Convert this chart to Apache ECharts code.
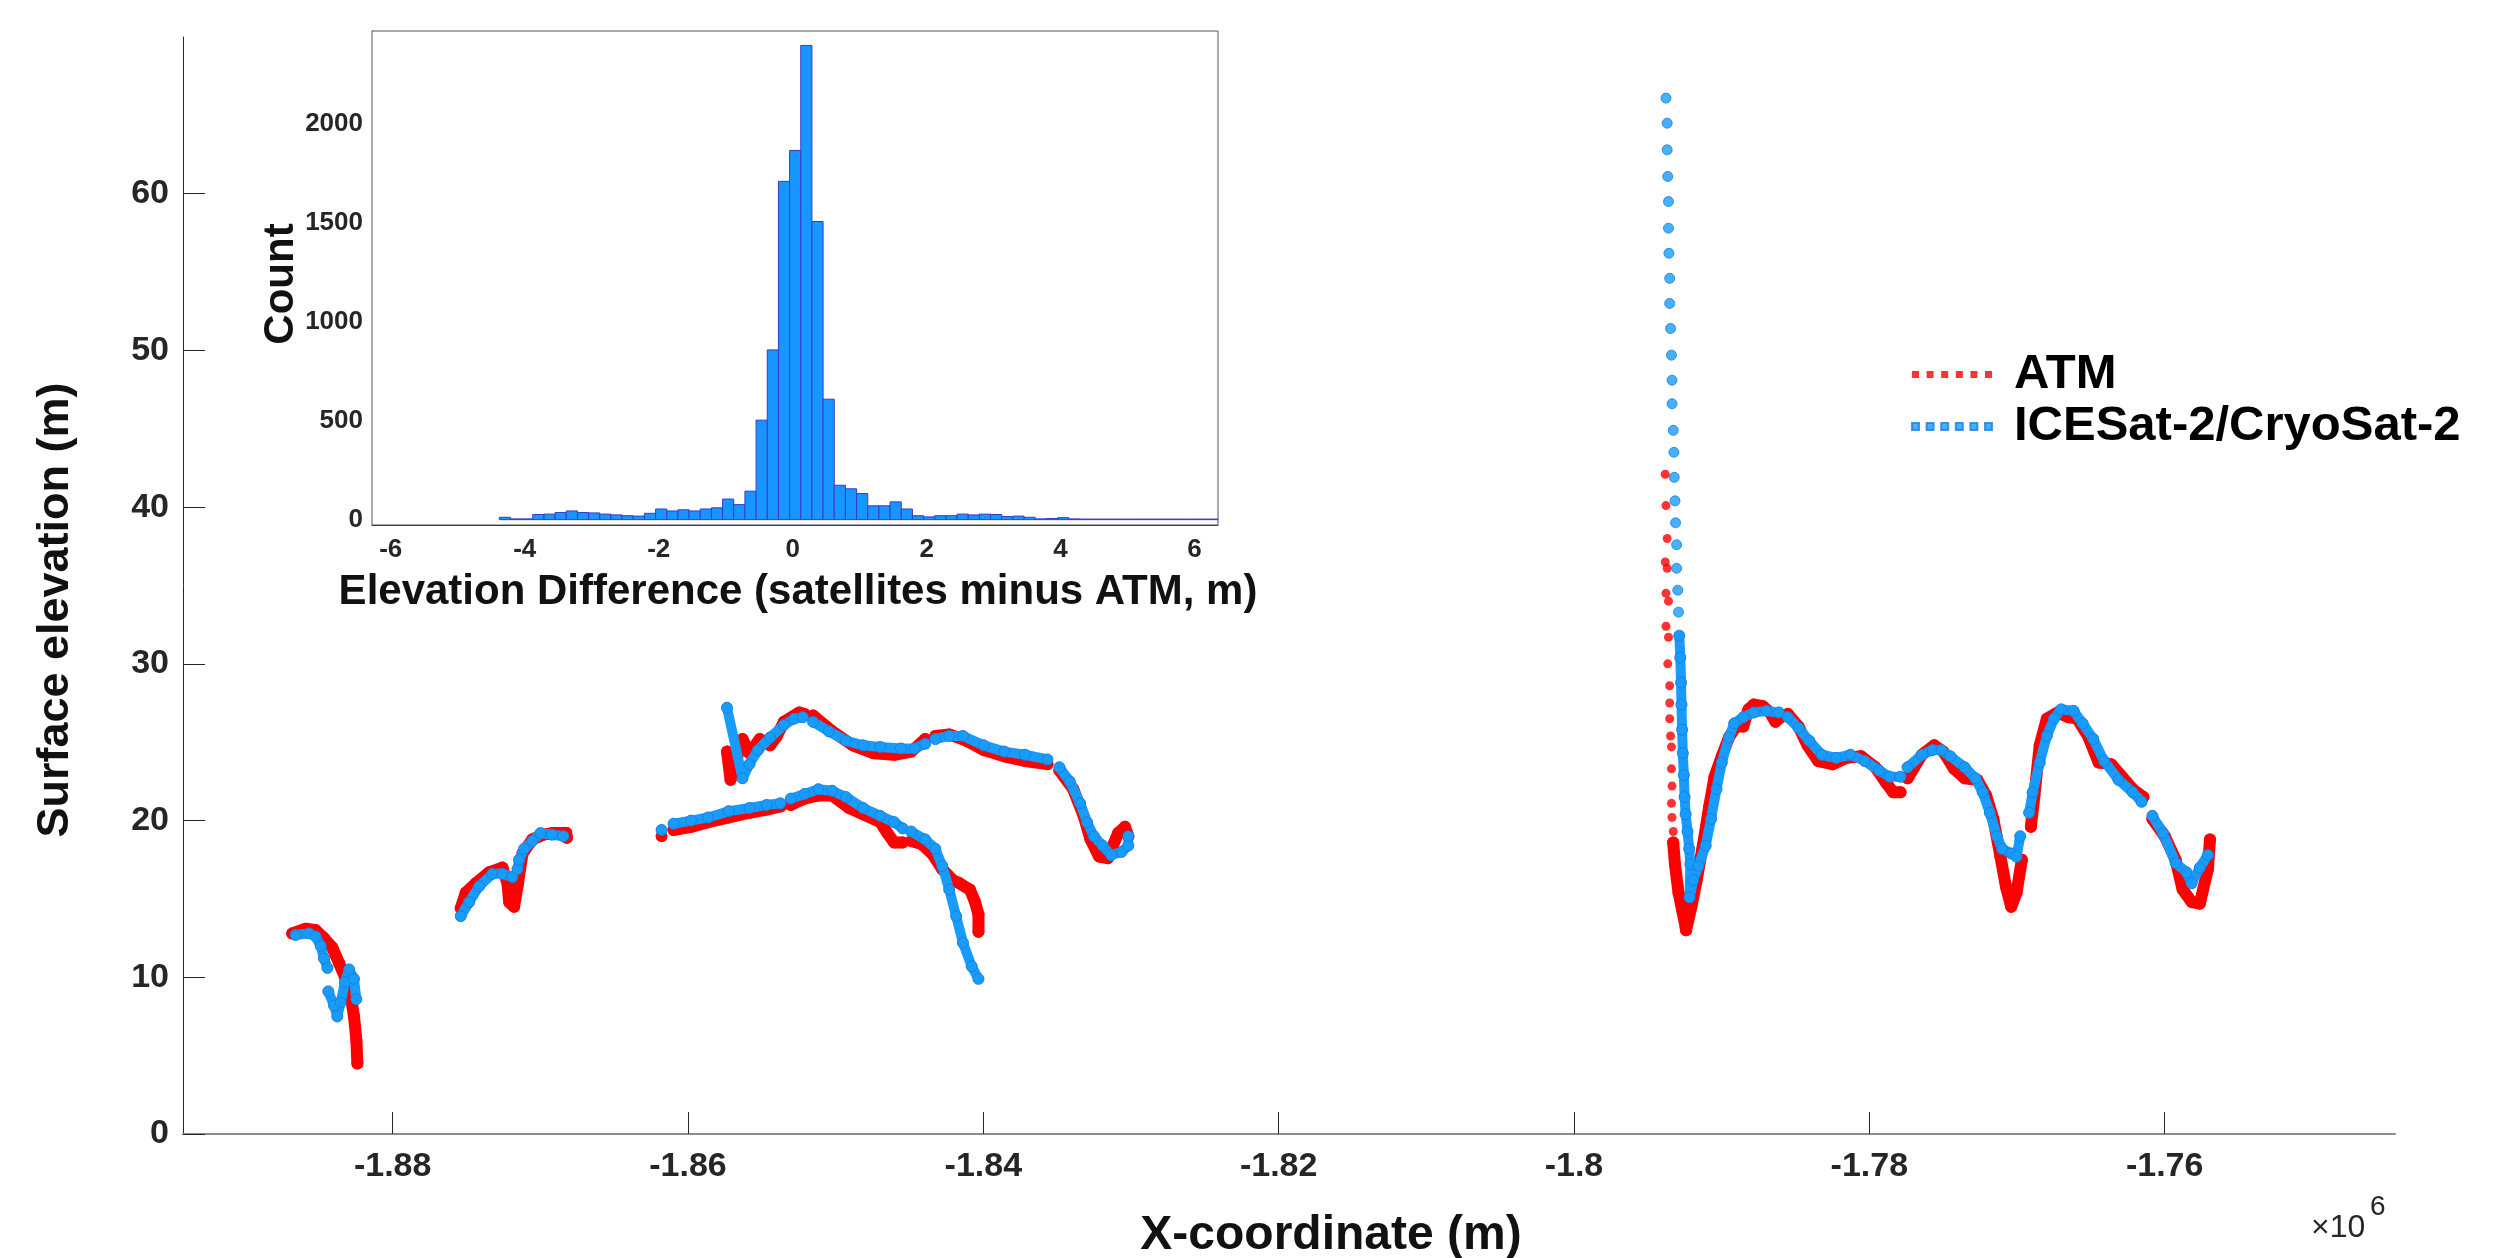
<!DOCTYPE html>
<html>
<head>
<meta charset="utf-8">
<title>Surface elevation: ATM vs ICESat-2/CryoSat-2</title>
<script src="https://cdn.jsdelivr.net/npm/echarts@6/dist/echarts.min.js"></script>
<style>
  html, body { margin: 0; padding: 0; background: #fff; }
  #chart { width: 2508px; height: 1258px; }
</style>
</head>
<body>
<div id="chart"></div>
<script>
// [x-coordinate (m), surface elevation (m)], null = gap in the track
const atmTrack = [
  [-1886800,12.8],[-1885890,13.1],[-1885210,13.0],[-1884650,12.5],[-1884090,11.9],[-1883630,10.9],[-1883180,9.9],[-1882840,8.8],[-1882620,7.5],[-1882460,6.0],[-1882390,4.5],
  null,
  [-1875390,14.4],[-1875050,15.4],[-1874370,16.0],[-1873470,16.7],[-1872570,17.0],[-1872230,16.0],[-1872110,14.8],[-1871780,14.5],[-1871550,15.8],[-1871210,17.9],[-1870540,18.8],[-1869800,19.1],[-1869210,19.2],[-1868250,19.2],[-1868200,18.9],
  null,
  [-1861790,19.0],
  null,
  [-1860980,19.4],[-1859800,19.6],[-1858640,19.9],[-1857240,20.2],[-1855840,20.5],[-1854670,20.7],[-1853740,20.9],
  null,
  [-1853040,21.0],[-1852110,21.4],[-1851170,21.6],[-1850240,21.6],[-1849080,20.8],[-1848140,20.4],[-1846980,19.9],[-1846500,19.2],[-1846040,18.6],[-1845460,18.6],
  null,
  [-1844880,18.7],[-1844170,18.5],[-1843480,17.9],[-1842780,16.9],[-1842070,16.2],[-1841610,16.0],[-1840910,15.6],[-1840560,14.8],[-1840330,14.0],[-1840330,12.9],
  null,
  [-1857360,24.4],[-1857120,22.6],[-1856310,25.2],[-1855840,24.3],[-1855140,25.2],[-1854440,24.8],[-1853980,25.4],[-1853510,26.3],[-1852460,26.9],[-1852110,26.8],
  null,
  [-1851530,26.7],[-1850240,25.7],[-1848840,24.8],[-1847440,24.3],[-1846040,24.2],[-1844880,24.4],[-1843940,25.2],
  null,
  [-1843250,25.4],[-1842310,25.5],[-1841150,25.1],[-1839970,24.5],[-1838580,24.1],[-1837180,23.8],[-1835660,23.6],
  null,
  [-1834850,23.2],[-1833910,22.0],[-1833210,20.3],[-1832740,18.8],[-1832160,17.7],[-1831580,17.6],[-1830870,19.2],[-1830410,19.6],[-1830180,19.0],
  null,
  [-1793280,18.6],[-1793160,17.2],[-1792920,15.4],[-1792680,14.3],[-1792440,13.2],[-1792410,13.0],[-1792050,14.5],[-1791690,16.2],[-1791200,18.8],[-1790840,20.9],[-1790480,22.8],[-1789990,24.1],[-1789510,25.3],[-1789030,26.0],[-1788540,26.0],[-1788180,27.1],[-1787810,27.4],[-1787210,27.3],[-1786720,26.9],[-1786360,26.3],[-1786000,26.6],
  null,
  [-1785520,26.8],[-1784790,26.0],[-1784180,24.8],[-1783460,23.8],[-1782490,23.6],[-1781530,24.0],[-1780560,24.1],[-1779590,23.4],[-1778860,22.4],[-1778380,21.8],[-1777890,21.8],
  null,
  [-1777410,22.7],[-1776440,24.2],[-1775600,24.8],[-1774990,24.4],[-1774260,23.3],[-1773540,22.7],[-1772690,22.6],[-1772090,21.6],[-1771600,20.1],[-1771120,17.7],[-1770750,15.8],[-1770390,14.5],[-1770030,15.4],[-1769670,17.5],
  null,
  [-1769060,19.6],[-1768820,21.6],[-1768460,24.8],[-1767980,26.5],[-1767240,26.9],[-1766520,26.6],[-1765920,26.5],[-1765190,25.4],[-1764470,23.7],[-1763620,23.6],[-1762890,22.8],[-1762160,22.0],[-1761440,21.5],
  null,
  [-1760830,20.1],[-1759990,19.0],[-1759260,17.5],[-1758780,15.6],[-1758170,14.8],[-1757620,14.7],[-1757070,16.9],[-1756930,18.8]
];
// sparse ATM returns on the steep face near -1.7935e6
const atmSpike = [
  [-1793820,42.1],[-1793770,40.1],[-1793690,38.0],[-1793820,36.5],[-1793690,36.1],[-1793770,34.5],[-1793600,34.0],[-1793770,32.4],[-1793600,31.7],[-1793650,30.0],
  [-1793520,28.6],[-1793520,27.5],[-1793520,26.5],[-1793460,25.4],[-1793400,24.7],[-1793400,23.3],[-1793360,22.2],[-1793400,21.1],[-1793360,20.2],[-1793280,19.3]
];
const satTrack = [
  [-1886570,12.7],[-1885660,12.8],[-1885210,12.6],[-1884870,12.0],[-1884650,11.2],[-1884420,10.6],
  null,
  [-1884360,9.1],[-1883970,8.2],[-1883750,7.5],[-1883520,8.4],[-1883230,9.7],[-1882950,10.5],[-1882620,9.9],[-1882460,8.6],
  null,
  [-1875390,13.9],[-1874820,14.8],[-1874150,15.8],[-1873250,16.6],[-1872570,16.6],[-1871890,16.4],
  null,
  [-1871550,16.9],[-1871440,17.5],[-1871100,18.2],[-1870540,18.7],[-1869990,19.2],[-1869210,19.1],[-1868440,19.0],
  null,
  [-1861790,19.4],
  null,
  [-1860980,19.8],[-1859800,20.0],[-1858640,20.2],[-1857240,20.6],[-1855840,20.8],[-1854670,21.0],[-1853740,21.1],
  null,
  [-1853040,21.4],[-1852110,21.7],[-1851170,22.0],[-1850240,21.9],[-1849310,21.5],[-1848140,20.8],[-1846980,20.3],[-1846040,19.9],[-1845460,19.5],
  null,
  [-1844880,19.3],[-1843940,18.8],[-1843250,18.2],[-1842780,17.1],[-1842310,15.6],[-1841840,13.9],[-1841380,12.2],[-1840790,10.7],[-1840330,9.9],
  null,
  [-1857360,27.2],[-1856310,22.7],[-1855840,23.6],[-1855260,24.5],[-1854440,25.3],[-1853510,26.1],[-1852810,26.5],[-1852220,26.6],
  null,
  [-1851530,26.3],[-1850470,25.7],[-1849310,25.1],[-1848140,24.8],[-1846980,24.7],[-1845580,24.6],[-1844640,24.6],[-1843940,24.9],
  null,
  [-1843250,25.2],[-1842310,25.4],[-1841380,25.4],[-1839970,24.8],[-1838580,24.4],[-1837180,24.2],[-1835660,23.9],
  null,
  [-1834850,23.4],[-1834150,22.5],[-1833440,21.1],[-1832980,19.9],[-1832510,19.0],[-1831920,18.4],[-1831340,17.8],[-1830640,18.0],[-1830180,18.4],[-1830180,19.0],
  null,
  [-1792870,31.8],[-1792800,30.4],[-1792750,28.8],[-1792720,27.4],[-1792680,25.8],[-1792630,24.3],[-1792560,22.9],[-1792510,21.5],[-1792440,20.4],[-1792310,19.3],[-1792200,18.2],[-1792120,17.2],[-1792170,15.1],
  [-1791930,16.2],[-1791570,17.1],[-1791080,18.4],[-1790720,20.1],[-1790350,22.0],[-1789990,23.7],[-1789510,25.3],[-1789150,26.2],[-1788540,26.6],[-1787810,26.9],[-1786970,27.0],[-1786120,26.9],
  null,
  [-1785520,26.6],[-1784790,25.9],[-1784070,25.1],[-1783220,24.2],[-1782250,24.0],[-1781280,24.2],[-1780310,23.8],[-1779340,23.2],[-1778620,22.8],[-1777890,22.8],
  null,
  [-1777410,23.4],[-1776440,24.2],[-1775710,24.5],[-1775110,24.5],[-1774510,24.1],[-1773540,23.4],[-1772810,22.7],[-1772320,21.8],[-1771840,20.5],[-1771360,19.0],[-1771000,18.2],[-1770390,17.9],[-1770030,17.7],[-1769780,19.0],
  null,
  [-1769180,20.5],[-1768940,21.8],[-1768460,23.7],[-1767980,25.4],[-1767490,26.5],[-1767010,27.1],[-1766160,27.0],[-1765550,26.2],[-1764830,25.2],[-1764100,23.8],[-1763130,22.6],[-1762160,21.8],[-1761560,21.2],
  null,
  [-1760830,20.3],[-1760110,19.2],[-1759260,17.3],[-1758520,16.7],[-1758170,16.0],[-1757620,17.0],[-1757070,17.8]
];
// sparse satellite points climbing the steep face
const satSpike = [
  [-1793770,66.1],[-1793690,64.5],[-1793690,62.8],[-1793650,61.1],[-1793600,59.5],[-1793600,57.8],[-1793570,56.2],[-1793520,54.6],[-1793520,53.0],[-1793460,51.4],[-1793400,49.7],
  [-1793360,48.1],[-1793360,46.6],[-1793280,44.9],[-1793230,43.5],[-1793210,41.9],[-1793160,40.4],[-1793120,39.0],[-1793050,37.6],[-1793050,36.1],[-1792970,34.7],[-1792920,33.3]
];

// histogram of elevation differences (satellites minus ATM)
const histStart = -4.38;
const histBinWidth = 0.1667;
const histCounts = [
  12, 4, 4, 26, 28, 36, 44, 36, 34, 28, 24, 20, 18, 32, 54, 44, 50, 44, 54, 60,
  104, 76, 144, 503, 858, 1710, 1866, 2397, 1507, 609, 174, 156, 132, 70, 70, 90, 54, 20, 14, 20,
  20, 28, 24, 28, 26, 16, 18, 12, 4, 6, 10, 4, 3, 3, 3, 3, 3, 3, 3, 3, 3, 3, 3, 3, 3
];

const xTicks = [-1880000, -1860000, -1840000, -1820000, -1800000, -1780000, -1760000];
const yTicks = [0, 10, 20, 30, 40, 50, 60];
const histXTicks = [-6, -4, -2, 0, 2, 4, 6];
const histYTicks = [0, 500, 1000, 1500, 2000];

const FONT = 'Liberation Sans';
const RED = '#ff0000';
const BLUE = '#189cfb';
const BLUE_EDGE = '#1a7fe2';
const INK = '#262626';
const dashIcon = 'path://M0,0h7v7h-7z M14.6,0h7v7h-7z M29.2,0h7v7h-7z M43.8,0h7v7h-7z M58.4,0h7v7h-7z M73,0h7v7h-7z';

function splitRuns(points) {
  const runs = [];
  let run = [];
  points.forEach(p => {
    if (p === null) {
      if (run.length) runs.push(run);
      run = [];
    } else run.push(p);
  });
  if (run.length) runs.push(run);
  return runs;
}

function tickLabel(size) {
  return { fontFamily: FONT, fontWeight: 'bold', fontSize: size, color: INK };
}

const series = [
  {
    name: 'ATM', type: 'scatter', data: atmSpike, symbolSize: 9, z: 2,
    itemStyle: { color: RED }
  },
  {
    name: 'ICESat-2/CryoSat-2', type: 'scatter', data: satSpike, symbolSize: 10, z: 4,
    itemStyle: { color: BLUE, borderColor: BLUE_EDGE, borderWidth: 1 }
  }
];
splitRuns(atmTrack).forEach(run => {
  series.push({
    name: 'atm-track', type: 'line', data: run, z: 1,
    symbol: 'circle', symbolSize: 12, showSymbol: true,
    itemStyle: { color: RED },
    lineStyle: { color: RED, width: 12, cap: 'round', join: 'round' }
  });
});
splitRuns(satTrack).forEach(run => {
  series.push({
    name: 'sat-track', type: 'line', data: run, z: 3,
    symbol: 'circle', symbolSize: 11, showSymbol: true,
    itemStyle: { color: BLUE, borderColor: BLUE_EDGE, borderWidth: 1 },
    lineStyle: { color: BLUE, width: 10, cap: 'round', join: 'round' }
  });
});
series.push({
  name: 'hist', type: 'custom', xAxisIndex: 1, yAxisIndex: 1, z: 5,
  data: histCounts.map((c, i) => [histStart + i * histBinWidth, histStart + (i + 1) * histBinWidth, c]),
  encode: { x: [0, 1], y: 2 },
  renderItem: function (params, api) {
    const p0 = api.coord([api.value(0), api.value(2)]);
    const p1 = api.coord([api.value(1), 0]);
    const rect = echarts.graphic.clipRectByRect(
      { x: p0[0], y: p0[1], width: p1[0] - p0[0], height: p1[1] - p0[1] },
      { x: params.coordSys.x, y: params.coordSys.y, width: params.coordSys.width, height: params.coordSys.height }
    );
    if (!rect) return;
    return { type: 'rect', shape: rect, style: { fill: '#1896ff', stroke: '#3a3ac4', lineWidth: 1 } };
  }
});

const chart = echarts.init(document.getElementById('chart'));
chart.setOption({
  animation: false,
  backgroundColor: '#fff',
  grid: [
    { left: 183, top: 37, width: 2212, height: 1097 },
    { left: 372, top: 31, width: 846, height: 494, show: true, backgroundColor: '#fff', borderColor: '#555', borderWidth: 1, z: 4 }
  ],
  xAxis: [
    {
      type: 'value', gridIndex: 0, min: -1894200, max: -1744400,
      axisLine: { onZero: false, lineStyle: { color: '#8c8c8c', width: 2 } },
      axisTick: { inside: true, length: 22, customValues: xTicks, lineStyle: { color: INK } },
      axisLabel: Object.assign(tickLabel(34), {
        margin: 16, customValues: xTicks,
        formatter: v => String(+(v / 1e6).toFixed(2))
      }),
      splitLine: { show: false }
    },
    {
      type: 'value', gridIndex: 1, min: -6.28, max: 6.35,
      axisLine: { onZero: false, lineStyle: { color: INK } },
      axisTick: { inside: true, length: 9, customValues: histXTicks, lineStyle: { color: INK } },
      axisLabel: Object.assign(tickLabel(26), { margin: 12, customValues: histXTicks, formatter: v => String(v) }),
      splitLine: { show: false }
    },
    {
      type: 'value', gridIndex: 1, position: 'top', min: -6.28, max: 6.35,
      axisLine: { show: false, onZero: false },
      axisTick: { inside: true, length: 9, customValues: histXTicks, lineStyle: { color: INK } },
      axisLabel: { show: false },
      splitLine: { show: false }
    }
  ],
  yAxis: [
    {
      type: 'value', gridIndex: 0, min: 0, max: 70,
      axisLine: { show: true, onZero: false, lineStyle: { color: INK } },
      axisTick: { show: true, inside: true, length: 22, customValues: yTicks, lineStyle: { color: INK } },
      axisLabel: Object.assign(tickLabel(34), { margin: 14, customValues: yTicks }),
      splitLine: { show: false }
    },
    {
      type: 'value', gridIndex: 1, min: -27, max: 2470,
      axisLine: { show: true, onZero: false, lineStyle: { color: INK } },
      axisTick: { show: true, inside: true, length: 9, customValues: histYTicks, lineStyle: { color: INK } },
      axisLabel: Object.assign(tickLabel(26), { margin: 9, customValues: histYTicks, formatter: v => String(v) }),
      splitLine: { show: false }
    },
    {
      type: 'value', gridIndex: 1, position: 'right', min: -27, max: 2470,
      axisLine: { show: false, onZero: false },
      axisTick: { show: true, inside: true, length: 9, customValues: histYTicks, lineStyle: { color: INK } },
      axisLabel: { show: false },
      splitLine: { show: false }
    }
  ],
  legend: {
    data: ['ATM', 'ICESat-2/CryoSat-2'],
    orient: 'vertical', left: 1911, top: 350, padding: 0,
    itemWidth: 80, itemHeight: 7, itemGap: 3,
    icon: dashIcon, selectedMode: false,
    textStyle: { fontFamily: FONT, fontWeight: 'bold', fontSize: 49, lineHeight: 49, color: '#000', padding: [0, 0, 0, 17] }
  },
  graphic: [
    { type: 'text', x: 56, y: 610, rotation: Math.PI / 2, silent: true,
      style: { text: 'Surface elevation (m)', font: 'bold 45px "Liberation Sans"', fill: '#111', align: 'center', verticalAlign: 'middle' } },
    { type: 'text', x: 1331, y: 1236, silent: true,
      style: { text: 'X-coordinate (m)', font: 'bold 48px "Liberation Sans"', fill: '#111', align: 'center', verticalAlign: 'middle' } },
    { type: 'text', x: 2311, y: 1228, silent: true,
      style: { text: '×10', font: '32px "Liberation Sans"', fill: INK, align: 'left', verticalAlign: 'middle' } },
    { type: 'text', x: 2370, y: 1207, silent: true,
      style: { text: '6', font: '28px "Liberation Sans"', fill: INK, align: 'left', verticalAlign: 'middle' } },
    { type: 'text', x: 281, y: 284, rotation: Math.PI / 2, silent: true, z: 10,
      style: { text: 'Count', font: 'bold 42px "Liberation Sans"', fill: '#111', align: 'center', verticalAlign: 'middle' } },
    { type: 'text', x: 798, y: 592, silent: true, z: 10,
      style: { text: 'Elevation Difference (satellites minus ATM, m)', font: 'bold 42px "Liberation Sans"', fill: '#111', align: 'center', verticalAlign: 'middle' } }
  ],
  series: series
});
</script>
</body>
</html>
